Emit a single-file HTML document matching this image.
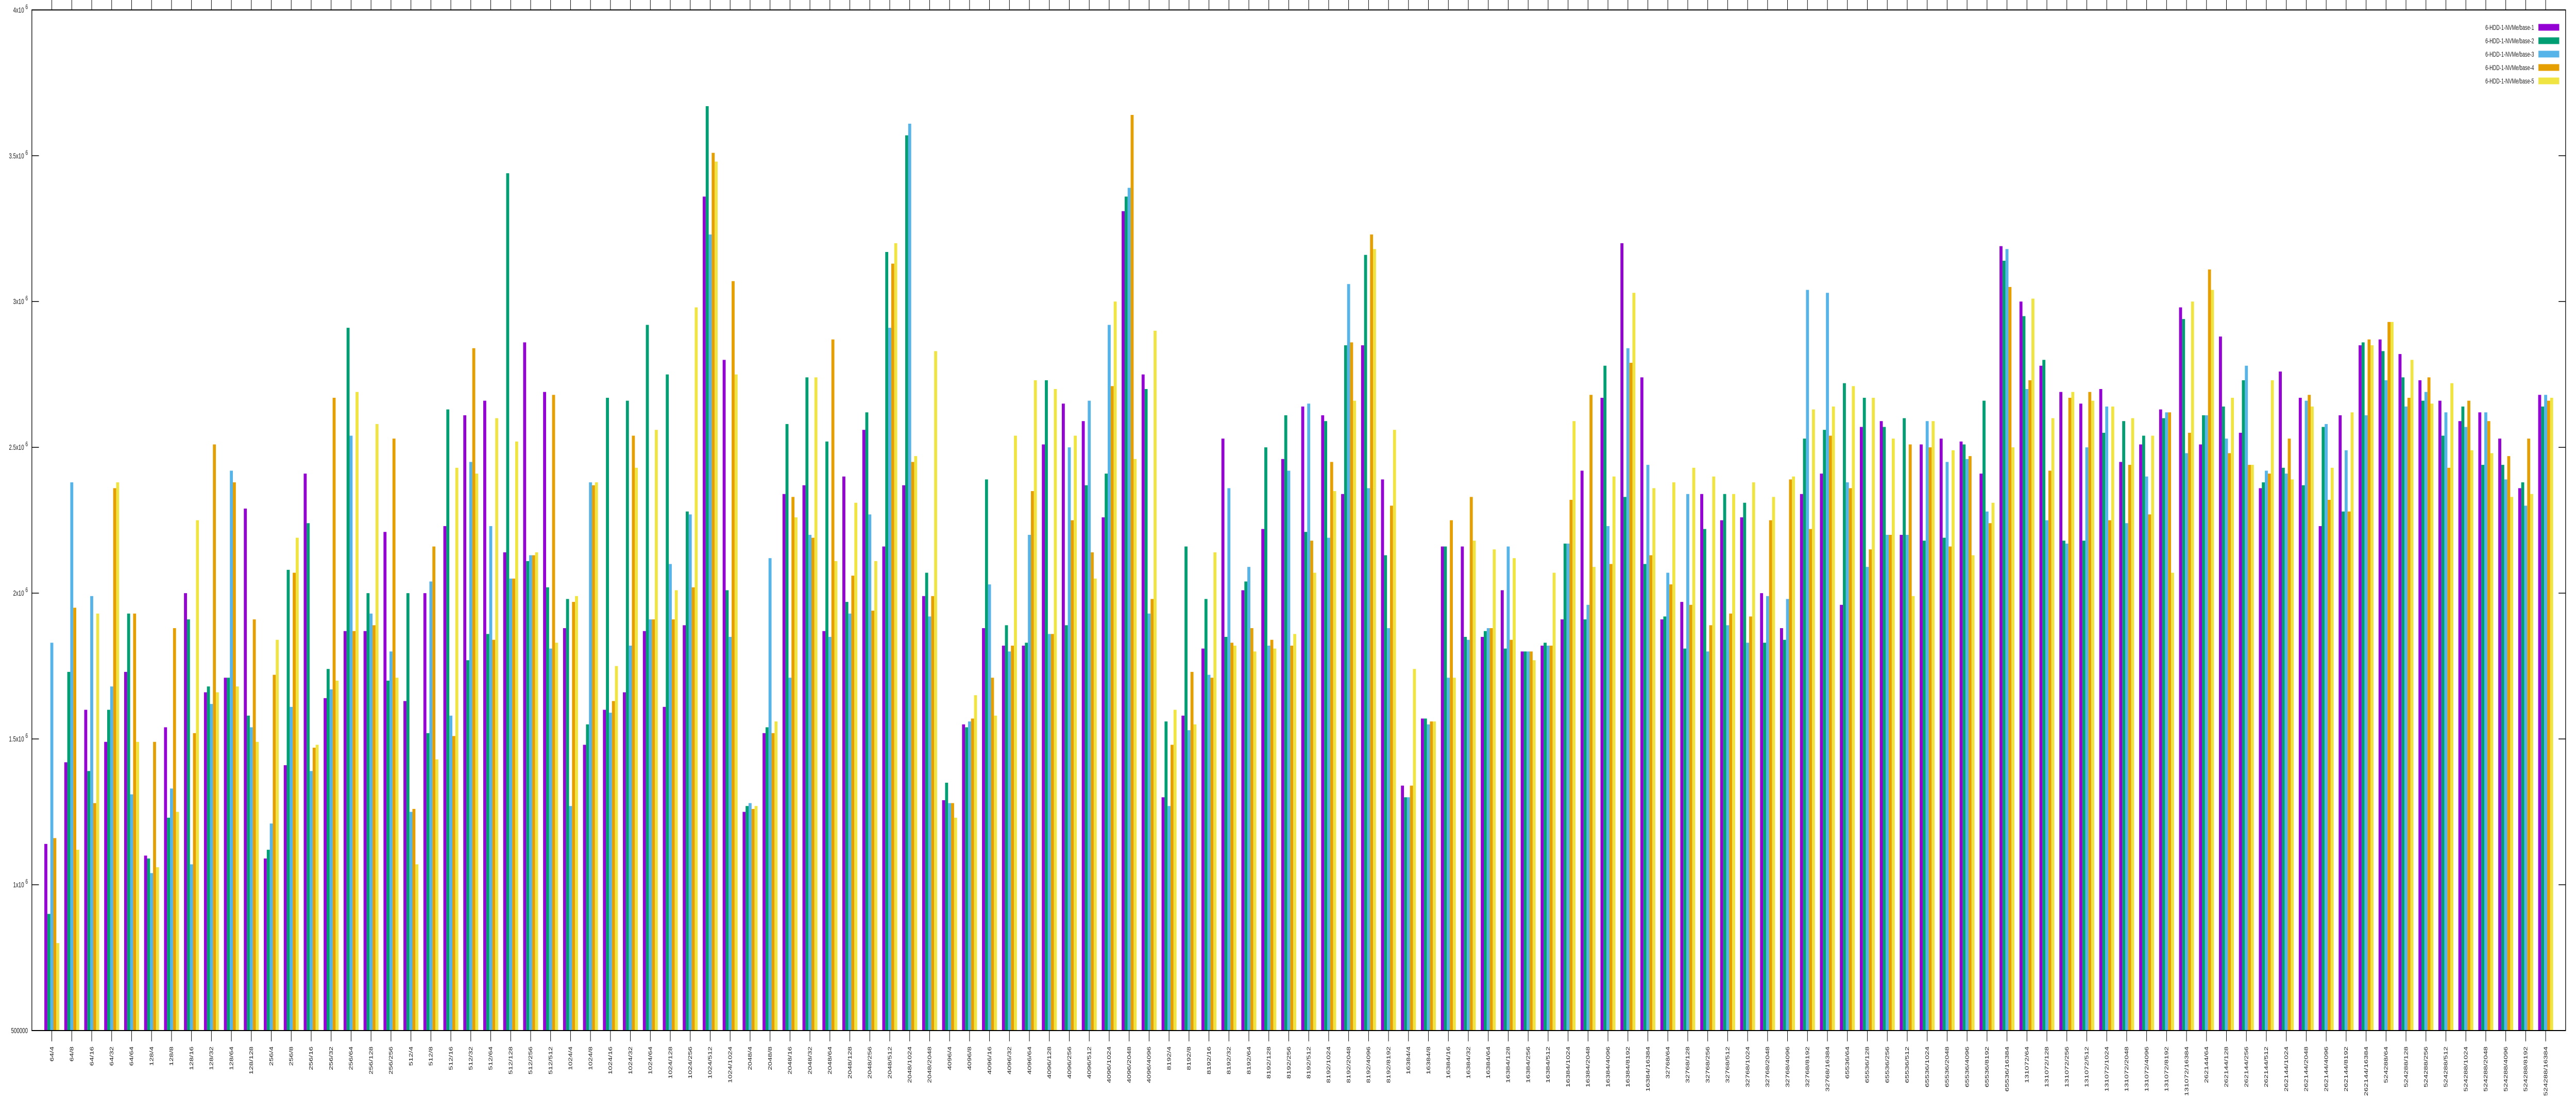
<!DOCTYPE html>
<html><head><meta charset="utf-8"><meta name="viewport" content="width=7680, initial-scale=1"><style>
html,body{margin:0;padding:0;background:#fff;width:100%;height:100%;overflow:hidden;}
svg{display:block;font-family:"Liberation Sans",sans-serif;width:100vw;height:100vh;}
</style></head><body>
<svg id="chart" viewBox="0 0 7680 2160" preserveAspectRatio="none" xmlns="http://www.w3.org/2000/svg">
<rect x="0" y="0" width="7680" height="2160" fill="#fff"/>
<g id="bars"></g>
<g id="axes"></g>
<g id="legend"></g>
</svg>
<script>
const categories = ["64/4","64/8","64/16","64/32","64/64",
"128/4","128/8","128/16","128/32","128/64","128/128",
"256/4","256/8","256/16","256/32","256/64","256/128","256/256",
"512/4","512/8","512/16","512/32","512/64","512/128","512/256","512/512",
"1024/4","1024/8","1024/16","1024/32","1024/64","1024/128","1024/256","1024/512","1024/1024",
"2048/4","2048/8","2048/16","2048/32","2048/64","2048/128","2048/256","2048/512","2048/1024","2048/2048",
"4096/4","4096/8","4096/16","4096/32","4096/64","4096/128","4096/256","4096/512","4096/1024","4096/2048","4096/4096",
"8192/4","8192/8","8192/16","8192/32","8192/64","8192/128","8192/256","8192/512","8192/1024","8192/2048","8192/4096","8192/8192",
"16384/4","16384/8","16384/16","16384/32","16384/64","16384/128","16384/256","16384/512","16384/1024","16384/2048","16384/4096","16384/8192","16384/16384",
"32768/64","32768/128","32768/256","32768/512","32768/1024","32768/2048","32768/4096","32768/8192","32768/16384",
"65536/64","65536/128","65536/256","65536/512","65536/1024","65536/2048","65536/4096","65536/8192","65536/16384",
"131072/64","131072/128","131072/256","131072/512","131072/1024","131072/2048","131072/4096","131072/8192","131072/16384",
"262144/64","262144/128","262144/256","262144/512","262144/1024","262144/2048","262144/4096","262144/8192","262144/16384",
"524288/64","524288/128","524288/256","524288/512","524288/1024","524288/2048","524288/4096","524288/8192","524288/16384"];
// values in millions
const base1 = [1.14,1.42,1.60,1.49,1.73,1.10,1.54,2.00,1.66,1.71,2.29,1.09,1.41,2.41,1.64,1.87,1.87,2.21,1.63,2.00,2.23,2.61,2.66,2.14,2.86,2.69,1.88,1.48,1.60,1.66,1.87,1.61,
1.89,3.36,2.80,1.25,1.52,2.34,2.37,1.87,2.40,2.56,2.16,2.37,1.99,1.29,1.55,1.88,1.82,1.82,2.51,2.65,2.59,2.26,3.31,2.75,1.30,1.58,1.81,2.53,2.01,2.22,2.46,
2.64,2.61,2.34,2.85,2.39,1.34,1.57,2.16,2.16,1.85,2.01,1.80,1.82,1.91,2.42,2.67,3.20,2.74,1.91,1.97,2.34,2.25,2.26,2.00,1.88,2.34,2.41,1.96,2.57,2.59,2.20,2.51,
2.53,2.52,2.41,3.19,3.00,2.78,2.69,2.65,2.70,2.45,2.51,2.63,2.98,2.51,2.88,2.55,2.36,2.76,2.67,2.23,2.61,2.85,2.87,2.82,2.73,2.66,2.59,2.62,2.53,2.36,2.68];
const base2 = [0.90,1.73,1.39,1.60,1.93,1.09,1.23,1.91,1.68,1.71,1.58,1.12,2.08,2.24,1.74,2.91,2.00,1.70,2.00,1.52,2.63,1.77,1.86,3.44,2.11,2.02,1.98,1.55,2.67,2.66,2.92,2.75,
2.28,3.67,2.01,1.27,1.54,2.58,2.74,2.52,1.97,2.62,3.17,3.57,2.07,1.35,1.54,2.39,1.89,1.83,2.73,1.89,2.37,2.41,3.36,2.70,1.56,2.16,1.98,1.85,2.04,2.50,2.61,
2.21,2.59,2.85,3.16,2.13,1.30,1.57,2.16,1.85,1.87,1.81,1.80,1.83,2.17,1.91,2.78,2.33,2.10,1.92,1.81,2.22,2.34,2.31,1.83,1.84,2.53,2.56,2.72,2.67,2.57,2.60,2.18,
2.19,2.51,2.66,3.14,2.95,2.80,2.18,2.18,2.55,2.59,2.54,2.60,2.94,2.61,2.64,2.73,2.38,2.43,2.37,2.57,2.28,2.86,2.83,2.74,2.66,2.54,2.64,2.44,2.44,2.38,2.64];
const base3 = [1.83,2.38,1.99,1.68,1.31,1.04,1.33,1.07,1.62,2.42,1.54,1.21,1.61,1.39,1.67,2.54,1.93,1.80,1.25,2.04,1.58,2.45,2.23,2.05,2.13,1.81,1.27,2.38,1.59,1.82,1.91,2.10,
2.27,3.23,1.85,1.28,2.12,1.71,2.20,1.85,1.93,2.27,2.91,3.61,1.92,1.28,1.56,2.03,1.80,2.20,1.86,2.50,2.66,2.92,3.39,1.93,1.27,1.53,1.72,2.36,2.09,1.82,2.42,
2.65,2.19,3.06,2.36,1.88,1.30,1.55,1.71,1.84,1.88,2.16,1.80,1.82,2.17,1.96,2.23,2.84,2.44,2.07,2.34,1.80,1.89,1.83,1.99,1.98,3.04,3.03,2.38,2.09,2.20,2.20,2.59,
2.45,2.46,2.28,3.18,2.70,2.25,2.17,2.50,2.64,2.24,2.40,2.62,2.48,2.61,2.53,2.78,2.42,2.41,2.66,2.58,2.49,2.61,2.73,2.64,2.69,2.62,2.57,2.62,2.39,2.30,2.68];
const base4 = [1.16,1.95,1.28,2.36,1.93,1.49,1.88,1.52,2.51,2.38,1.91,1.72,2.07,1.47,2.67,1.87,1.89,2.53,1.26,2.16,1.51,2.84,1.84,2.05,2.13,2.68,1.97,2.37,1.63,2.54,1.91,1.91,
2.02,3.51,3.07,1.26,1.52,2.33,2.19,2.87,2.06,1.94,3.13,2.45,1.99,1.28,1.57,1.71,1.82,2.35,1.86,2.25,2.14,2.71,3.64,1.98,1.48,1.73,1.71,1.83,1.88,1.84,1.82,
2.18,2.45,2.86,3.23,2.30,1.34,1.56,2.25,2.33,1.88,1.84,1.80,1.82,2.32,2.68,2.10,2.79,2.13,2.03,1.96,1.89,1.93,1.92,2.25,2.39,2.22,2.54,2.36,2.15,2.20,2.51,2.50,
2.16,2.47,2.24,3.05,2.73,2.42,2.67,2.69,2.25,2.44,2.27,2.62,2.55,3.11,2.48,2.44,2.41,2.53,2.68,2.32,2.28,2.87,2.93,2.67,2.74,2.43,2.66,2.59,2.47,2.53,2.66];
const base5 = [0.80,1.12,1.93,2.38,1.49,1.06,1.25,2.25,1.66,1.68,1.49,1.84,2.19,1.48,1.70,2.69,2.58,1.71,1.07,1.43,2.43,2.41,2.60,2.52,2.14,1.83,1.99,2.38,1.75,2.43,2.56,2.01,
2.98,3.48,2.75,1.27,1.56,2.26,2.74,2.11,2.31,2.11,3.20,2.47,2.83,1.23,1.65,1.58,2.54,2.73,2.70,2.54,2.05,3.00,2.46,2.90,1.60,1.55,2.14,1.82,1.80,1.81,1.86,
2.07,2.35,2.66,3.18,2.56,1.74,1.56,1.71,2.18,2.15,2.12,1.77,2.07,2.59,2.09,2.40,3.03,2.36,2.38,2.43,2.40,2.34,2.38,2.33,2.40,2.63,2.64,2.71,2.67,2.53,1.99,2.59,
2.49,2.13,2.31,2.50,3.01,2.60,2.69,2.66,2.64,2.60,2.54,2.07,3.00,3.04,2.67,2.44,2.73,2.39,2.64,2.43,2.62,2.85,2.93,2.80,2.65,2.72,2.49,2.48,2.33,2.34,2.67];
const seriesNames = ["6-HDD-1-NVMe/base-1","6-HDD-1-NVMe/base-2","6-HDD-1-NVMe/base-3","6-HDD-1-NVMe/base-4","6-HDD-1-NVMe/base-5"];
const yTickValues = [0.5,1,1.5,2,2.5,3,3.5,4];
const yTickMant = ["500000","1","1.5","2","2.5","3","3.5","4"];

const NS="http://www.w3.org/2000/svg";
const colors=["#9400d3","#009e73","#56b4e9","#e69f00","#f0e442"];
const L=95,R=7649,T=19.3,B=2000;
const yMin=0.5,yMax=4;
function yS(v){return B-(v-yMin)/(yMax-yMin)*(B-T);}
const unit=(R-L)/(categories.length+1);
function xS(i){return L+(i+1)*unit;}
const bw=unit*0.75/5;
function mk(tag,attrs,parent){const e=document.createElementNS(NS,tag);for(const k in attrs)e.setAttribute(k,attrs[k]);parent.appendChild(e);return e;}
const bars=document.getElementById('bars');
const axes=document.getElementById('axes');
const legend=document.getElementById('legend');
const series=[base1,base2,base3,base4,base5];
series.forEach((s,j)=>{
  s.forEach((v,i)=>{
    const x=xS(i)-2.5*bw+j*bw;
    const y=yS(v);
    const r=mk('rect',{x:x.toFixed(2),y:y.toFixed(2),width:bw.toFixed(2),height:(B-y).toFixed(2),fill:colors[j]},bars);
    
    
  });
});
const fr=mk('rect',{x:L,y:T,width:R-L,height:B-T,fill:'none',stroke:'#000','stroke-width':2},axes);


yTickValues.forEach((v,k)=>{
  const y=yS(v);
  const t1=mk('line',{x1:L,x2:L+21,y1:y,y2:y,stroke:'#000','stroke-width':1.5},axes);
  
  
  const t2=mk('line',{x1:R,x2:R-21,y1:y,y2:y,stroke:'#000','stroke-width':1.5},axes);
  
  
  const tx=mk('text',{x:83,y:y+5,'text-anchor':'end','font-size':15,fill:'#222'},axes);
  
  
  if(k===0){tx.textContent=yTickMant[k];}
  else{
    const a=document.createElementNS(NS,'tspan');a.textContent=yTickMant[k]+'x10 ';tx.appendChild(a);
    const b=document.createElementNS(NS,'tspan');b.setAttribute('dy','-7');b.setAttribute('font-size','13');b.textContent='6';tx.appendChild(b);
  }
});
categories.forEach((c,i)=>{
  const x=xS(i);
  const t=mk('line',{x1:x,x2:x,y1:B,y2:B+21,stroke:'#000','stroke-width':1.5},axes);
  
  
  const t2=mk('line',{x1:x,x2:x,y1:0,y2:T,stroke:'#000','stroke-width':1.5},axes);
  
  
  const tx=mk('text',{transform:'translate('+(x+5).toFixed(1)+',2031) rotate(-90)','text-anchor':'end','font-size':15,fill:'#222'},axes);
  
  
  tx.textContent=c;
});
seriesNames.forEach((n,j)=>{
  const y=53+j*26;
  const tx=mk('text',{x:7555,y:y+5,'text-anchor':'end','font-size':14,fill:'#222'},legend);
  
  
  tx.textContent=n;
  const r=mk('rect',{x:7568,y:y-6.5,width:62,height:13,fill:colors[j]},legend);
  
  
});
</script>
</body></html>
